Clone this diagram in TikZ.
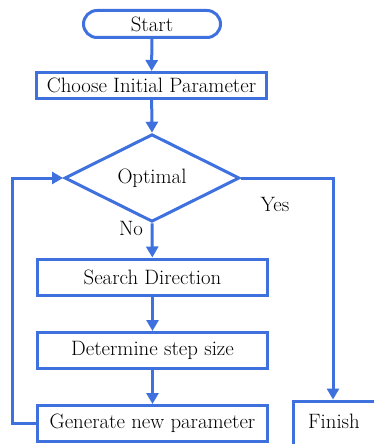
\documentclass[tikz,border=0pt]{standalone}
\usetikzlibrary{shapes.geometric,shapes.misc,arrows.meta}
\definecolor{fblue}{RGB}{62,112,222}
\tikzset{
  txt/.style={font=\fontsize{20.8}{24}\selectfont, text=black},
  boxst/.style={txt, draw=fblue, line width=3pt, rectangle, inner sep=0pt, minimum width=230pt, minimum height=36pt},
  termst/.style={txt, draw=fblue, line width=3pt, rounded rectangle, inner sep=0pt, minimum width=137pt, minimum height=27pt},
  decst/.style={txt, draw=fblue, line width=3pt, diamond, inner sep=0pt, minimum width=175pt, minimum height=85pt},
  conn/.style={draw=fblue, line width=3pt, -{Triangle[length=11pt,width=12pt]}},
  lbl/.style={txt, inner sep=0pt}
}
\begin{document}
\begin{tikzpicture}[x=1pt,y=-1pt]
\useasboundingbox (0,0) rectangle (374,444);
\node[termst] (start) at (152,24) {Start};
\node[boxst, minimum height=26pt] (choose) at (151.5,85.5) {Choose Initial Parameter};
\node[decst] (opt) at (152,178) {Optimal};
\node[boxst] (search) at (152.5,277) {Search Direction};
\node[boxst] (step) at (152.5,350.5) {Determine step size};
\node[boxst] (gen) at (152.5,423.5) {Generate new parameter};
\node[boxst, minimum width=84pt, minimum height=48pt, anchor=north west] (fin) at (291.5,399.5) {};
\node[lbl] (fintext) at (334,421) {Finish};
\coordinate (lb) at (12.5,423.5);
\coordinate (lt) at (12.5,178);
\coordinate (yr) at (333,178);
\node[lbl] (yes) at (275,204) {Yes};
\node[lbl] (no) at (131,228) {No};
\draw[conn] (start) -- (choose);
\draw[conn] (choose) -- (opt.north);
\draw[conn] (opt.south) -- (search);
\draw[conn] (search) -- (step);
\draw[conn] (step) -- (gen);
\draw[conn] (gen.west) -- (lb) -- (lt) -- (opt.west);
\draw[conn] (opt.east) -- (yr) -- (yr |- fin.north);
\end{tikzpicture}
\end{document}
